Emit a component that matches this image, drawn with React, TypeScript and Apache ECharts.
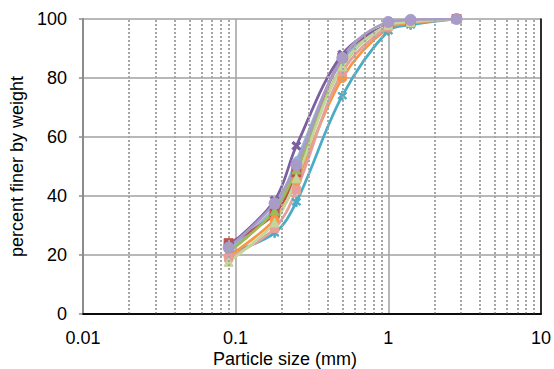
import React, { useEffect, useRef } from "react";
import * as echarts from "echarts";

const sizes = [0.09, 0.18, 0.25, 0.5, 1, 1.4, 2.8];
const minorGrid = [0.02, 0.03, 0.04, 0.05, 0.06, 0.07, 0.08, 0.09, 0.2, 0.3, 0.4, 0.5, 0.6, 0.7, 0.8, 0.9, 2, 3, 4, 5, 6, 7, 8, 9];

const sLightBlue = [22, 36, 52, 86, 98, 99.3, 100];
const sRed = [24, 34, 48, 87, 98, 99, 100];
const sGreen = [21, 35, 49, 84, 98, 99, 100];
const sPurple = [23, 38.5, 57, 88, 98, 99, 100];
const sTeal = [20.5, 27.5, 38, 74, 96, 98, 100];
const sOrange = [19.5, 32, 45, 80, 97, 98.5, 100];
const sPink = [19, 29, 42, 82, 97.5, 99, 100];
const sLightGreen = [17.7, 31, 46, 84, 98, 99, 100];
const sLavender = [22.5, 37.5, 50.5, 86.8, 99, 99.7, 100];

const X_PATH = "path://M2,0 L5,3 L8,0 L10,2 L7,5 L10,8 L8,10 L5,7 L2,10 L0,8 L3,5 L0,2 Z";
const STAR_PATH = "path://M4.2,0 L5.8,0 L5.8,3.6 L8.6,1 L9.8,2.2 L6.9,5 L9.8,7.8 L8.6,9 L5.8,6.4 L5.8,10 L4.2,10 L4.2,6.4 L1.4,9 L0.2,7.8 L3.1,5 L0.2,2.2 L1.4,1 L4.2,3.6 Z";

const seriesDefs = [
  { name: "S1", vals: sLightBlue, color: "#95B3D7", symbol: "diamond", size: 9 },
  { name: "S2", vals: sRed, color: "#C0504D", symbol: "rect", size: 9 },
  { name: "S3", vals: sGreen, color: "#9BBB59", symbol: "triangle", size: 9 },
  { name: "S4", vals: sPurple, color: "#7B5FA0", symbol: X_PATH, size: 9 },
  { name: "S5", vals: sTeal, color: "#4BACC6", symbol: STAR_PATH, size: 9 },
  { name: "S6", vals: sOrange, color: "#F79646", symbol: "circle", size: 9 },
  { name: "S7", vals: sPink, color: "#E6A09C", symbol: "rect", size: 8 },
  { name: "S8", vals: sLightGreen, color: "#C3D69B", symbol: "triangle", size: 9 },
  { name: "S9", vals: sLavender, color: "#A99BC8", symbol: "circle", size: 11 },
];

export default function App() {
  const ref = useRef<HTMLDivElement>(null);
  useEffect(() => {
    if (!ref.current) return;
    const chart = echarts.init(ref.current, null, { renderer: "svg" });
    const font = "Liberation Sans, Arial, sans-serif";
    const series: any[] = [
      {
        type: "line",
        data: [],
        z: 1,
        silent: true,
        markLine: {
          silent: true,
          symbol: ["none", "none"],
          label: { show: false },
          animation: false,
          lineStyle: { color: "#A6A6A6", width: 2, type: [2, 2] },
          data: minorGrid.map((v) => ({ xAxis: v })),
        },
      },
      ...seriesDefs.map((d) => ({
        name: d.name,
        type: "line",
        smooth: 0.35,
        data: sizes.map((s, i) => [s, d.vals[i]]),
        symbol: d.symbol,
        symbolSize: d.size,
        showAllSymbol: true,
        lineStyle: { color: d.color, width: 2.75 },
        itemStyle: { color: d.color, borderColor: d.color, borderWidth: 1 },
        z: 3,
      })),
    ];
    chart.setOption({
      animation: false,
      textStyle: { fontFamily: font },
      grid: { left: 82, right: 11, top: 19, bottom: 55, containLabel: false },
      xAxis: [
        {
          type: "log",
          logBase: 10,
          min: 0.01,
          max: 10,
          axisLine: { show: true, lineStyle: { color: "#000", width: 1.5 } },
          axisTick: { show: false },
          axisLabel: {
            color: "#000",
            fontSize: 18,
            fontFamily: font,
            margin: 15,
            formatter: (v: number) => String(+v.toPrecision(3)),
          },
          splitLine: { show: true, lineStyle: { color: "#A0A0A0", width: 1.5 } },
        },
        {
          type: "log",
          logBase: 10,
          min: 0.01,
          max: 10,
          position: "top",
          z: 5,
          axisLine: { show: true, lineStyle: { color: "#000", width: 1.5 } },
          axisTick: { show: false },
          axisLabel: { show: false },
          splitLine: { show: false },
        },
      ],
      yAxis: [
        {
          type: "value",
          min: 0,
          max: 100,
          interval: 20,
          name: "percent finer by weight",
          nameLocation: "middle",
          nameGap: 51,
          nameTextStyle: { color: "#000", fontSize: 18, fontFamily: font },
          axisLine: { show: true, lineStyle: { color: "#8C8C8C", width: 2 } },
          axisTick: { show: true, length: 4, lineStyle: { color: "#8C8C8C", width: 1.5 } },
          axisLabel: { color: "#000", fontSize: 18, fontFamily: font, margin: 16 },
          splitLine: { show: true, lineStyle: { color: "#A0A0A0", width: 1.5 } },
        },
        {
          type: "value",
          min: 0,
          max: 100,
          position: "right",
          z: 5,
          axisLine: { show: true, lineStyle: { color: "#000", width: 1.5 } },
          axisTick: { show: false },
          axisLabel: { show: false },
          splitLine: { show: false },
        },
      ],
      graphic: [
        {
          type: "text",
          left: 213,
          top: 350,
          style: { text: "Particle size (mm)", fill: "#000", font: `18px ${font}` },
        },
      ],
      series,
    });
    return () => chart.dispose();
  }, []);
  return <div ref={ref} style={{ width: 554, height: 369, position: "absolute", left: 0, top: 0 }} />;
}
